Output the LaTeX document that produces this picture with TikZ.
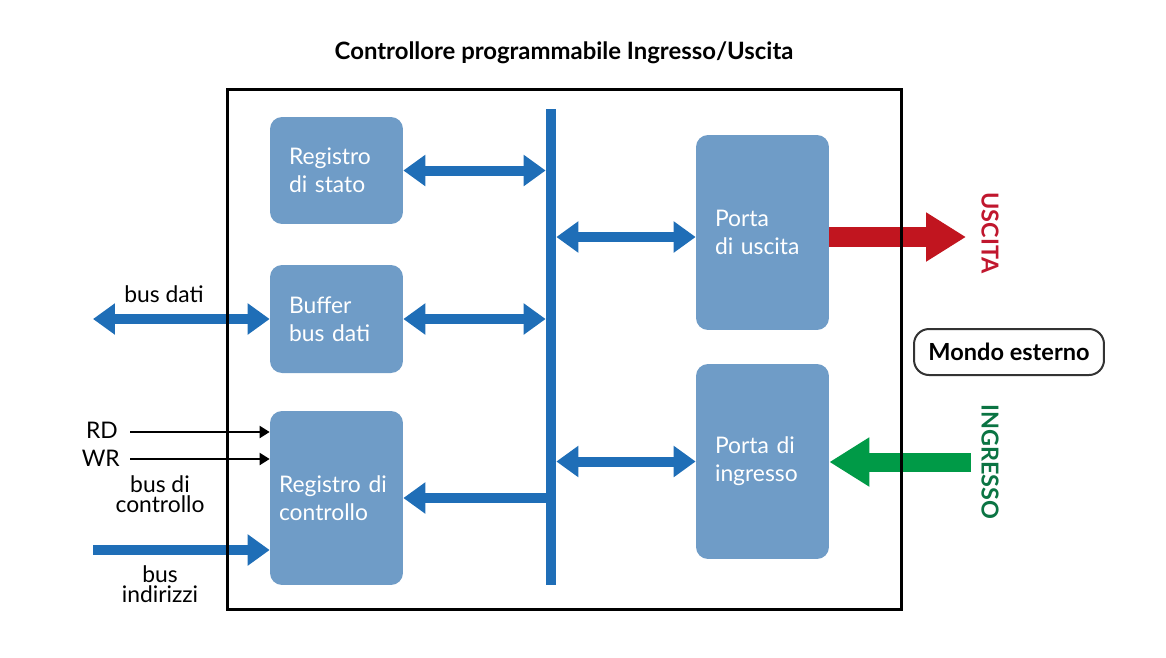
\documentclass[tikz,border=0pt]{standalone}
\usepackage{fontspec}
\setmainfont{Lato}
\usetikzlibrary{arrows.meta}
\definecolor{boxblue}{HTML}{6F9CC7}
\definecolor{busblue}{HTML}{1F6EB7}
\definecolor{outred}{HTML}{C1151F}
\definecolor{ingreen}{HTML}{009A47}
\definecolor{textred}{HTML}{C0172E}
\definecolor{textgreen}{HTML}{0B7443}
\tikzset{
    bushead/.tip={Triangle[length=0.44cm, width=0.6cm]},
    sighead/.tip={Triangle[length=0.2cm, width=0.24cm]},
    bighead/.tip={Triangle[length=0.8cm, width=0.93cm]}
}

\begin{document}
\begin{tikzpicture}[x=0.02cm, y=-0.02cm,
    blockbox/.style={fill=boxblue, rounded corners=0.24cm, text=white, align=left,
        inner xsep=0.38cm, text width=1.9cm, font=\fontsize{13}{16}\selectfont},
    buslabel/.style={align=center, font=\fontsize{13}{11.5}\selectfont},
    busline/.style={line width=0.2cm, busblue},
    sigline/.style={line width=0.04cm, -sighead},
    sidelabel/.style={rotate=-90, font=\bfseries\fontsize{13.3}{16}\selectfont}]
    \useasboundingbox (0,0) rectangle (1166,657);

    % Title
    \node[font=\bfseries\fontsize{13.6}{16}\selectfont] (title) at (564,53) {Controllore programmabile Ingresso/Uscita};

    % Internal blocks
    \node[blockbox, minimum height=2.14cm] (stato) at (336.5,170.5) {Registro\\di stato};
    \node[blockbox, minimum height=2.16cm] (buffer) at (336.5,319) {Buffer\\bus dati};
    \node[blockbox, minimum height=3.48cm, inner xsep=0.18cm, text width=2.3cm] (controllo) at (336.5,498) {Registro di\\controllo};
    \node[blockbox, minimum height=3.9cm] (uscita) at (762.5,232.5) {Porta\\di uscita};
    \node[blockbox, minimum height=3.9cm] (ingresso) at (762.5,461.5) {Porta di\\ingresso};

    % Internal bus
    \node[fill=busblue, inner sep=0pt, minimum width=0.2cm, minimum height=9.52cm] (bus) at (551,347) {};

    % Bus connections
    \draw[busline, bushead-bushead] (stato.east) -- (stato.east -| bus.west);
    \draw[busline, bushead-bushead] (buffer.east) -- (buffer.east -| bus.west);
    \draw[busline, -bushead] (bus.west |- controllo.east) -- (controllo.east);
    \coordinate (uscR) at (966,237);
    \coordinate (ingR) at (971,462);
    \draw[busline, bushead-bushead] (bus.east |- uscR) -- (uscita.west |- uscR);
    \draw[busline, bushead-bushead] (bus.east |- ingresso.west) -- (ingresso.west);

    % External signals
    \coordinate (datiL) at (93,319);
    \coordinate (rdL) at (130,432);
    \coordinate (wrL) at (130,459);
    \coordinate (indL) at (93,550);
    \draw[busline, bushead-bushead] (datiL) -- (datiL -| buffer.west);
    \draw[sigline] (rdL) -- (rdL -| controllo.west);
    \draw[sigline] (wrL) -- (wrL -| controllo.west);
    \draw[busline, -bushead] (indL) -- (indL -| controllo.west);

    \node[buslabel] (datilabel) at (164,294) {bus dati};
    \node[anchor=east, font=\fontsize{13}{15}\selectfont] (rdlabel) at (124,430) {RD};
    \node[anchor=east, font=\fontsize{13}{15}\selectfont] (wrlabel) at (126,458) {WR};
    \node[buslabel] (ctrllabel) at (160,494) {bus di\\controllo};
    \node[buslabel] (indlabel) at (160,584) {bus\\indirizzi};

    % Outside world
    \draw[line width=0.4cm, outred, -bighead] (uscita.east |- uscR) -- (uscR);
    \draw[line width=0.38cm, ingreen, -bighead] (ingR) -- (ingR -| ingresso.east);
    \node[sidelabel, textred] (usclabel) at (990,233) {USCITA};
    \node[sidelabel, textgreen] (inglabel) at (990,462) {INGRESSO};
    \node[draw=black!80, line width=0.04cm, rounded corners=0.3cm, minimum width=3.8cm, minimum height=0.92cm,
        font=\bfseries\fontsize{13.4}{15}\selectfont] (mondo) at (1009,352) {Mondo esterno};

    % Controller outline
    \draw[line width=0.06cm] (227,89) rectangle (901,609);
\end{tikzpicture}
\end{document}
